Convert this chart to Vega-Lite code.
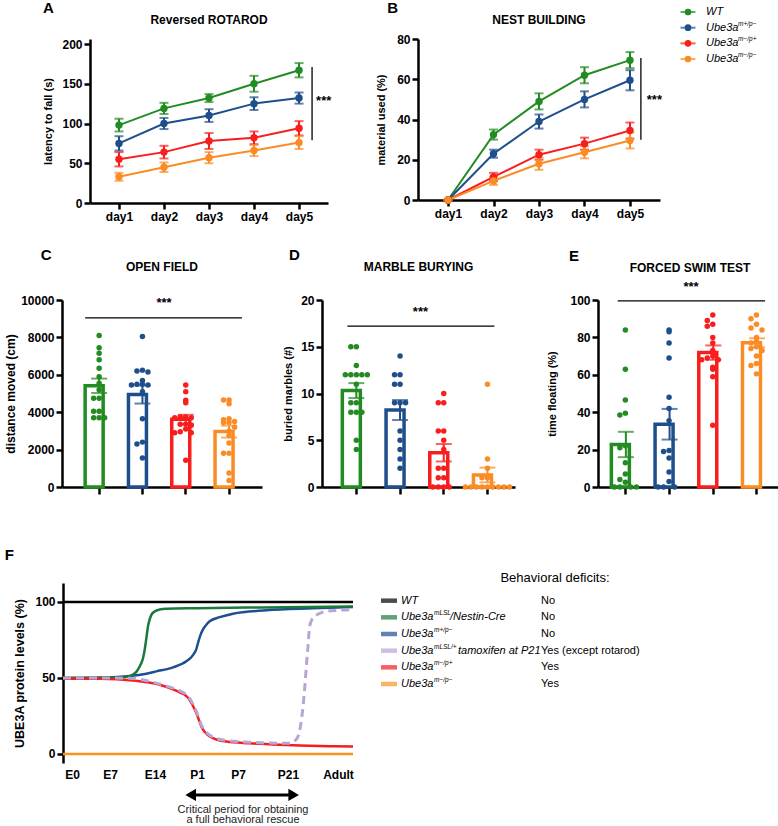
{
 "$schema": "https://vega.github.io/schema/vega-lite/v6.json",
 "padding": {"left": 1, "top": 1, "right": 0, "bottom": 0},
 "config": {
  "font": "Liberation Sans",
  "view": {"stroke": null},
  "axis": {"domainColor": "#000", "domainWidth": 2.5, "tickColor": "#000", "tickWidth": 2.5, "tickSize": 6, "labelColor": "#000", "labelFontWeight": "bold", "labelFontSize": 12, "labelFont": "Liberation Sans", "titleFont": "Liberation Sans", "titleColor": "#000", "titleFontWeight": "bold", "titleFontSize": 11, "grid": false, "labelPadding": 2, "titlePadding": 8, "labelOverlap": false},
  "title": {"font": "Liberation Sans", "fontWeight": "bold", "color": "#000", "fontSize": 12},
  "text": {"font": "Liberation Sans"}
 },
 "datasets": {
  "rotarod": [
   {"day": 1, "g": "WT", "m": 98, "s": 8}, {"day": 2, "g": "WT", "m": 119, "s": 7}, {"day": 3, "g": "WT", "m": 132, "s": 5}, {"day": 4, "g": "WT", "m": 150, "s": 10}, {"day": 5, "g": "WT", "m": 167, "s": 9},
   {"day": 1, "g": "m+/p−", "m": 75, "s": 9}, {"day": 2, "g": "m+/p−", "m": 100, "s": 7}, {"day": 3, "g": "m+/p−", "m": 110, "s": 8}, {"day": 4, "g": "m+/p−", "m": 125, "s": 8}, {"day": 5, "g": "m+/p−", "m": 132, "s": 7},
   {"day": 1, "g": "m−/p+", "m": 55, "s": 9}, {"day": 2, "g": "m−/p+", "m": 64, "s": 8}, {"day": 3, "g": "m−/p+", "m": 78, "s": 10}, {"day": 4, "g": "m−/p+", "m": 82, "s": 8}, {"day": 5, "g": "m−/p+", "m": 94, "s": 9},
   {"day": 1, "g": "m−/p−", "m": 33, "s": 5}, {"day": 2, "g": "m−/p−", "m": 45, "s": 6}, {"day": 3, "g": "m−/p−", "m": 57, "s": 7}, {"day": 4, "g": "m−/p−", "m": 66, "s": 7}, {"day": 5, "g": "m−/p−", "m": 76, "s": 8}
  ],
  "nest": [
   {"day": 1, "g": "WT", "m": 0, "s": 0}, {"day": 2, "g": "WT", "m": 32.5, "s": 2.5}, {"day": 3, "g": "WT", "m": 49, "s": 4}, {"day": 4, "g": "WT", "m": 62, "s": 4}, {"day": 5, "g": "WT", "m": 69.5, "s": 4},
   {"day": 1, "g": "m+/p−", "m": 0, "s": 0}, {"day": 2, "g": "m+/p−", "m": 23, "s": 2}, {"day": 3, "g": "m+/p−", "m": 39, "s": 3.5}, {"day": 4, "g": "m+/p−", "m": 50, "s": 4}, {"day": 5, "g": "m+/p−", "m": 59.5, "s": 5},
   {"day": 1, "g": "m−/p+", "m": 0, "s": 0}, {"day": 2, "g": "m−/p+", "m": 11.5, "s": 2}, {"day": 3, "g": "m−/p+", "m": 22.5, "s": 2.5}, {"day": 4, "g": "m−/p+", "m": 28, "s": 3}, {"day": 5, "g": "m−/p+", "m": 34.5, "s": 4},
   {"day": 1, "g": "m−/p−", "m": 0, "s": 0}, {"day": 2, "g": "m−/p−", "m": 9.5, "s": 2}, {"day": 3, "g": "m−/p−", "m": 18, "s": 3}, {"day": 4, "g": "m−/p−", "m": 23.7, "s": 3}, {"day": 5, "g": "m−/p−", "m": 29.6, "s": 4}
  ],
  "openfield": [
   {"g": "WT", "v": 8100}, {"g": "WT", "v": 7450}, {"g": "WT", "v": 7150}, {"g": "WT", "v": 6800}, {"g": "WT", "v": 6350}, {"g": "WT", "v": 5900}, {"g": "WT", "v": 5550}, {"g": "WT", "v": 5200}, {"g": "WT", "v": 4750}, {"g": "WT", "v": 4750}, {"g": "WT", "v": 4050}, {"g": "WT", "v": 4050}, {"g": "WT", "v": 3700}, {"g": "WT", "v": 3700}, {"g": "WT", "v": 3700},
   {"g": "m+/p−", "v": 8050}, {"g": "m+/p−", "v": 6250}, {"g": "m+/p−", "v": 6200}, {"g": "m+/p−", "v": 6150}, {"g": "m+/p−", "v": 5700}, {"g": "m+/p−", "v": 5500}, {"g": "m+/p−", "v": 5500}, {"g": "m+/p−", "v": 5450}, {"g": "m+/p−", "v": 5450}, {"g": "m+/p−", "v": 5100}, {"g": "m+/p−", "v": 3650}, {"g": "m+/p−", "v": 2400}, {"g": "m+/p−", "v": 2300}, {"g": "m+/p−", "v": 1550},
   {"g": "m−/p+", "v": 5450}, {"g": "m−/p+", "v": 5100}, {"g": "m−/p+", "v": 4640}, {"g": "m−/p+", "v": 4500}, {"g": "m−/p+", "v": 3750}, {"g": "m−/p+", "v": 3750}, {"g": "m−/p+", "v": 3700}, {"g": "m−/p+", "v": 3700}, {"g": "m−/p+", "v": 3350}, {"g": "m−/p+", "v": 3350}, {"g": "m−/p+", "v": 3300}, {"g": "m−/p+", "v": 3100}, {"g": "m−/p+", "v": 2950}, {"g": "m−/p+", "v": 2900}, {"g": "m−/p+", "v": 2900}, {"g": "m−/p+", "v": 1430},
   {"g": "m−/p−", "v": 4650}, {"g": "m−/p−", "v": 4650}, {"g": "m−/p−", "v": 4450}, {"g": "m−/p−", "v": 3650}, {"g": "m−/p−", "v": 3600}, {"g": "m−/p−", "v": 3500}, {"g": "m−/p−", "v": 3450}, {"g": "m−/p−", "v": 3450}, {"g": "m−/p−", "v": 3200}, {"g": "m−/p−", "v": 3000}, {"g": "m−/p−", "v": 2750}, {"g": "m−/p−", "v": 2350}, {"g": "m−/p−", "v": 1800}, {"g": "m−/p−", "v": 1800}, {"g": "m−/p−", "v": 750}, {"g": "m−/p−", "v": 350}
  ],
  "marble": [
   {"g": "WT", "v": 15}, {"g": "WT", "v": 15}, {"g": "WT", "v": 13}, {"g": "WT", "v": 12}, {"g": "WT", "v": 12}, {"g": "WT", "v": 12}, {"g": "WT", "v": 12}, {"g": "WT", "v": 12}, {"g": "WT", "v": 11}, {"g": "WT", "v": 9}, {"g": "WT", "v": 9}, {"g": "WT", "v": 8}, {"g": "WT", "v": 8}, {"g": "WT", "v": 8}, {"g": "WT", "v": 5}, {"g": "WT", "v": 4},
   {"g": "m+/p−", "v": 14}, {"g": "m+/p−", "v": 12}, {"g": "m+/p−", "v": 12}, {"g": "m+/p−", "v": 11}, {"g": "m+/p−", "v": 11}, {"g": "m+/p−", "v": 9}, {"g": "m+/p−", "v": 9}, {"g": "m+/p−", "v": 9}, {"g": "m+/p−", "v": 6}, {"g": "m+/p−", "v": 5}, {"g": "m+/p−", "v": 4}, {"g": "m+/p−", "v": 3}, {"g": "m+/p−", "v": 2},
   {"g": "m−/p+", "v": 10}, {"g": "m−/p+", "v": 9}, {"g": "m−/p+", "v": 9}, {"g": "m−/p+", "v": 6}, {"g": "m−/p+", "v": 6}, {"g": "m−/p+", "v": 5}, {"g": "m−/p+", "v": 4}, {"g": "m−/p+", "v": 2}, {"g": "m−/p+", "v": 2}, {"g": "m−/p+", "v": 1}, {"g": "m−/p+", "v": 1}, {"g": "m−/p+", "v": 0}, {"g": "m−/p+", "v": 0}, {"g": "m−/p+", "v": 0}, {"g": "m−/p+", "v": 0},
   {"g": "m−/p−", "v": 11}, {"g": "m−/p−", "v": 3}, {"g": "m−/p−", "v": 2}, {"g": "m−/p−", "v": 1}, {"g": "m−/p−", "v": 1}, {"g": "m−/p−", "v": 0}, {"g": "m−/p−", "v": 0}, {"g": "m−/p−", "v": 0}, {"g": "m−/p−", "v": 0}, {"g": "m−/p−", "v": 0}, {"g": "m−/p−", "v": 0}, {"g": "m−/p−", "v": 0}, {"g": "m−/p−", "v": 0}, {"g": "m−/p−", "v": 0}
  ],
  "swim": [
   {"g": "WT", "v": 84}, {"g": "WT", "v": 63}, {"g": "WT", "v": 46.5}, {"g": "WT", "v": 39.5}, {"g": "WT", "v": 38.5}, {"g": "WT", "v": 22}, {"g": "WT", "v": 21}, {"g": "WT", "v": 13}, {"g": "WT", "v": 7}, {"g": "WT", "v": 4}, {"g": "WT", "v": 2.5}, {"g": "WT", "v": 0}, {"g": "WT", "v": 0}, {"g": "WT", "v": 0}, {"g": "WT", "v": 0},
   {"g": "m+/p−", "v": 84}, {"g": "m+/p−", "v": 83}, {"g": "m+/p−", "v": 77}, {"g": "m+/p−", "v": 69}, {"g": "m+/p−", "v": 48}, {"g": "m+/p−", "v": 42}, {"g": "m+/p−", "v": 35.5}, {"g": "m+/p−", "v": 19.5}, {"g": "m+/p−", "v": 19}, {"g": "m+/p−", "v": 15.5}, {"g": "m+/p−", "v": 8}, {"g": "m+/p−", "v": 3}, {"g": "m+/p−", "v": 0}, {"g": "m+/p−", "v": 0}, {"g": "m+/p−", "v": 0},
   {"g": "m−/p+", "v": 92}, {"g": "m−/p+", "v": 89}, {"g": "m−/p+", "v": 87}, {"g": "m−/p+", "v": 86}, {"g": "m−/p+", "v": 80}, {"g": "m−/p+", "v": 77}, {"g": "m−/p+", "v": 73}, {"g": "m−/p+", "v": 70}, {"g": "m−/p+", "v": 69}, {"g": "m−/p+", "v": 68}, {"g": "m−/p+", "v": 68}, {"g": "m−/p+", "v": 64}, {"g": "m−/p+", "v": 63}, {"g": "m−/p+", "v": 59}, {"g": "m−/p+", "v": 33},
   {"g": "m−/p−", "v": 92}, {"g": "m−/p−", "v": 90}, {"g": "m−/p−", "v": 87}, {"g": "m−/p−", "v": 85}, {"g": "m−/p−", "v": 84}, {"g": "m−/p−", "v": 80}, {"g": "m−/p−", "v": 78}, {"g": "m−/p−", "v": 77}, {"g": "m−/p−", "v": 75}, {"g": "m−/p−", "v": 74}, {"g": "m−/p−", "v": 73}, {"g": "m−/p−", "v": 70}, {"g": "m−/p−", "v": 66}, {"g": "m−/p−", "v": 65}, {"g": "m−/p−", "v": 60.5}
  ],
  "protein": [
   {"s": "wt", "t": 0, "v": 100}, {"s": "wt", "t": 87, "v": 100},
   {"s": "mmm", "t": 0, "v": 0}, {"s": "mmm", "t": 87, "v": 0},
   {"s": "mpm", "t": 0, "v": 50}, {"s": "mpm", "t": 15, "v": 50.4}, {"s": "mpm", "t": 20, "v": 51.2}, {"s": "mpm", "t": 25, "v": 52.8}, {"s": "mpm", "t": 28, "v": 54.3}, {"s": "mpm", "t": 33, "v": 57}, {"s": "mpm", "t": 37, "v": 61}, {"s": "mpm", "t": 39, "v": 65}, {"s": "mpm", "t": 40, "v": 69}, {"s": "mpm", "t": 40.5, "v": 73}, {"s": "mpm", "t": 41.2, "v": 78}, {"s": "mpm", "t": 42, "v": 82}, {"s": "mpm", "t": 43, "v": 85}, {"s": "mpm", "t": 44, "v": 87.3}, {"s": "mpm", "t": 47, "v": 90}, {"s": "mpm", "t": 51, "v": 92.3}, {"s": "mpm", "t": 61, "v": 94.5}, {"s": "mpm", "t": 75, "v": 95.8}, {"s": "mpm", "t": 87, "v": 96.7},
   {"s": "nes", "t": 0, "v": 50}, {"s": "nes", "t": 10, "v": 50}, {"s": "nes", "t": 17, "v": 50.3}, {"s": "nes", "t": 20, "v": 51.2}, {"s": "nes", "t": 22, "v": 54}, {"s": "nes", "t": 23, "v": 57.5}, {"s": "nes", "t": 24, "v": 63}, {"s": "nes", "t": 24.5, "v": 68.5}, {"s": "nes", "t": 25, "v": 76}, {"s": "nes", "t": 25.5, "v": 84}, {"s": "nes", "t": 26, "v": 88.5}, {"s": "nes", "t": 26.5, "v": 91.5}, {"s": "nes", "t": 27.5, "v": 93.8}, {"s": "nes", "t": 29, "v": 95}, {"s": "nes", "t": 31, "v": 95.5}, {"s": "nes", "t": 40, "v": 95.9}, {"s": "nes", "t": 60, "v": 96.4}, {"s": "nes", "t": 87, "v": 97},
   {"s": "mmp", "t": 0, "v": 49.5}, {"s": "mmp", "t": 11, "v": 49.4}, {"s": "mmp", "t": 21, "v": 48.3}, {"s": "mmp", "t": 29, "v": 45.5}, {"s": "mmp", "t": 33, "v": 42.5}, {"s": "mmp", "t": 35, "v": 40.5}, {"s": "mmp", "t": 37, "v": 38}, {"s": "mmp", "t": 38, "v": 35.5}, {"s": "mmp", "t": 39, "v": 31.5}, {"s": "mmp", "t": 40, "v": 26.8}, {"s": "mmp", "t": 41, "v": 21}, {"s": "mmp", "t": 41.5, "v": 18}, {"s": "mmp", "t": 42.5, "v": 14.5}, {"s": "mmp", "t": 44, "v": 11.4}, {"s": "mmp", "t": 46, "v": 9.5}, {"s": "mmp", "t": 49, "v": 8.1}, {"s": "mmp", "t": 56, "v": 7}, {"s": "mmp", "t": 65, "v": 6}, {"s": "mmp", "t": 71, "v": 5.5}, {"s": "mmp", "t": 80, "v": 5}, {"s": "mmp", "t": 87, "v": 4.8},
   {"s": "tam", "t": 0, "v": 50}, {"s": "tam", "t": 10, "v": 50}, {"s": "tam", "t": 20, "v": 49.8}, {"s": "tam", "t": 29, "v": 46}, {"s": "tam", "t": 33, "v": 43.3}, {"s": "tam", "t": 35, "v": 41.5}, {"s": "tam", "t": 37, "v": 39}, {"s": "tam", "t": 38, "v": 36.5}, {"s": "tam", "t": 39, "v": 32.5}, {"s": "tam", "t": 40, "v": 28}, {"s": "tam", "t": 41, "v": 22}, {"s": "tam", "t": 41.5, "v": 19}, {"s": "tam", "t": 42.5, "v": 15.5}, {"s": "tam", "t": 44, "v": 12.3}, {"s": "tam", "t": 46, "v": 10.2}, {"s": "tam", "t": 49, "v": 8.8}, {"s": "tam", "t": 56, "v": 7.7}, {"s": "tam", "t": 65, "v": 7}, {"s": "tam", "t": 68, "v": 7}, {"s": "tam", "t": 69.5, "v": 8.5}, {"s": "tam", "t": 70.5, "v": 11.4}, {"s": "tam", "t": 71.3, "v": 19}, {"s": "tam", "t": 72, "v": 31}, {"s": "tam", "t": 72.5, "v": 43}, {"s": "tam", "t": 73, "v": 57.6}, {"s": "tam", "t": 73.5, "v": 71}, {"s": "tam", "t": 74, "v": 84}, {"s": "tam", "t": 74.7, "v": 88.5}, {"s": "tam", "t": 75.5, "v": 90.5}, {"s": "tam", "t": 77, "v": 92.5}, {"s": "tam", "t": 79, "v": 93.8}, {"s": "tam", "t": 83, "v": 94.6}, {"s": "tam", "t": 87, "v": 95}
  ]
 },
 "align": "none",
 "spacing": 51,
 "vconcat": [
  {"align": "none", "spacing": 25, "vconcat": [
   {"align": "none", "spacing": 15, "hconcat": [
    {"width": 24, "height": 1, "view": {"stroke": "transparent"}, "data": {"values": []}, "mark": {"type": "point", "opacity": 0}},
    {"align": "none", "spacing": 17, "hconcat": [
     {"align": "none", "spacing": 43, "hconcat": [
      {"title": {"text": "A", "anchor": "start", "frame": "bounds", "fontSize": 15, "dx": 0, "offset": -2},
       "vconcat": [{
        "title": {"text": "Reversed ROTAROD", "offset": 11},
        "width": 238, "height": 164,
        "layer": [
         {"data": {"name": "rotarod"},
          "encoding": {
           "x": {"field": "day", "type": "quantitative", "scale": {"domain": [0.356, 5.644], "nice": false, "zero": false}, "axis": {"values": [1, 2, 3, 4, 5], "labelExpr": "'day' + datum.value", "title": null, "tickCount": 20}},
           "y": {"field": "m", "type": "quantitative", "scale": {"domain": [0, 206.3], "nice": false}, "axis": {"values": [0, 50, 100, 150, 200], "title": "latency to fall (s)", "tickCount": 20, "titlePadding": 8}},
           "color": {"field": "g", "type": "nominal", "scale": {"domain": ["WT", "m+/p−", "m−/p+", "m−/p−", "wt", "nes", "mpm", "tam", "mmp", "mmm"], "range": ["#228b22", "#1f4e8c", "#f81e1e", "#fb8c25", "#000000", "#1a7a3a", "#1d4f91", "#b9a4d6", "#f51d1d", "#f7931e"]}, "legend": null}
          },
          "layer": [
           {"mark": {"type": "line", "strokeWidth": 2}},
           {"mark": {"type": "errorbar", "ticks": true, "size": 9, "thickness": 2}, "encoding": {"yError": {"field": "s"}}},
           {"mark": {"type": "point", "filled": true, "size": 55, "opacity": 1}}
          ]},
         {"data": {"values": [{"day": 5.29, "m": 79, "m2": 171}]}, "mark": {"type": "rule", "color": "#000", "strokeWidth": 1.3}, "encoding": {"x": {"field": "day", "type": "quantitative"}, "y": {"field": "m", "type": "quantitative"}, "y2": {"field": "m2"}}},
         {"data": {"values": [{"day": 5.38, "m": 128, "t": "***"}]}, "mark": {"type": "text", "align": "left", "baseline": "middle", "fontSize": 13, "fontWeight": "bold", "color": "#000"}, "encoding": {"x": {"field": "day", "type": "quantitative"}, "y": {"field": "m", "type": "quantitative"}, "text": {"field": "t"}}}
        ]
       }]
      },
      {"title": {"text": "B", "anchor": "start", "frame": "bounds", "fontSize": 15, "dx": 12, "offset": -2},
       "vconcat": [{
        "title": {"text": "NEST BUILDING", "offset": 6},
        "width": 242, "height": 161,
        "layer": [
         {"data": {"name": "nest"},
          "encoding": {
           "x": {"field": "day", "type": "quantitative", "scale": {"domain": [0.34, 5.66], "nice": false, "zero": false}, "axis": {"values": [1, 2, 3, 4, 5], "labelExpr": "'day' + datum.value", "title": null, "tickCount": 20}},
           "y": {"field": "m", "type": "quantitative", "scale": {"domain": [0, 80], "nice": false}, "axis": {"values": [0, 20, 40, 60, 80], "title": "material used (%)", "tickCount": 20, "titlePadding": 10.5}},
           "color": {"field": "g", "type": "nominal", "scale": {"domain": ["WT", "m+/p−", "m−/p+", "m−/p−", "wt", "nes", "mpm", "tam", "mmp", "mmm"], "range": ["#228b22", "#1f4e8c", "#f81e1e", "#fb8c25", "#000000", "#1a7a3a", "#1d4f91", "#b9a4d6", "#f51d1d", "#f7931e"]}, "legend": null}
          },
          "layer": [
           {"mark": {"type": "line", "strokeWidth": 2}},
           {"mark": {"type": "errorbar", "ticks": true, "size": 9, "thickness": 2}, "encoding": {"yError": {"field": "s"}}},
           {"mark": {"type": "point", "filled": true, "size": 55, "opacity": 1}}
          ]},
         {"data": {"values": [{"day": 5.24, "m": 30, "m2": 70.6}]}, "mark": {"type": "rule", "color": "#000", "strokeWidth": 1.3}, "encoding": {"x": {"field": "day", "type": "quantitative"}, "y": {"field": "m", "type": "quantitative"}, "y2": {"field": "m2"}}},
         {"data": {"values": [{"day": 5.37, "m": 49.5, "t": "***"}]}, "mark": {"type": "text", "align": "left", "baseline": "middle", "fontSize": 13, "fontWeight": "bold", "color": "#000"}, "encoding": {"x": {"field": "day", "type": "quantitative"}, "y": {"field": "m", "type": "quantitative"}, "text": {"field": "t"}}}
        ]
       }]
      }
     ]},
     {"width": 16, "height": 20, "view": {"stroke": "transparent"},
      "data": {"values": [{"g": "WT", "b": "WT", "p": ""}, {"g": "m+/p−", "b": "Ube3a", "p": "m+/p−"}, {"g": "m−/p+", "b": "Ube3a", "p": "m−/p+"}, {"g": "m−/p−", "b": "Ube3a", "p": "m−/p−"}]},
      "encoding": {"y": {"field": "g", "type": "nominal", "scale": {"type": "point", "domain": ["WT", "m+/p−", "m−/p+", "m−/p−"], "range": [-27, 20], "padding": 0}, "axis": null}},
      "layer": [
       {"mark": {"type": "tick", "orient": "horizontal", "size": 15, "thickness": 2}, "encoding": {"color": {"field": "g", "type": "nominal", "scale": {"domain": ["WT", "m+/p−", "m−/p+", "m−/p−", "wt", "nes", "mpm", "tam", "mmp", "mmm"], "range": ["#228b22", "#1f4e8c", "#f81e1e", "#fb8c25", "#000000", "#1a7a3a", "#1d4f91", "#b9a4d6", "#f51d1d", "#f7931e"]}, "legend": null}}},
       {"mark": {"type": "point", "filled": true, "size": 45, "opacity": 1}, "encoding": {"color": {"field": "g", "type": "nominal", "scale": {"domain": ["WT", "m+/p−", "m−/p+", "m−/p−", "wt", "nes", "mpm", "tam", "mmp", "mmm"], "range": ["#228b22", "#1f4e8c", "#f81e1e", "#fb8c25", "#000000", "#1a7a3a", "#1d4f91", "#b9a4d6", "#f51d1d", "#f7931e"]}, "legend": null}}},
       {"mark": {"type": "text", "align": "left", "baseline": "middle", "dx": 18, "fontSize": 11, "fontStyle": "italic", "color": "#000"}, "encoding": {"text": {"field": "b"}}},
       {"mark": {"type": "text", "align": "left", "baseline": "middle", "dx": 50, "dy": -4, "fontSize": 6.5, "fontStyle": "italic", "color": "#000"}, "encoding": {"text": {"field": "p"}}}
      ]}
    ]}
   ]},
   {"align": "none", "spacing": 0, "hconcat": [
    {"width": 1, "height": 1, "view": {"stroke": "transparent"}, "data": {"values": []}, "mark": {"type": "point", "opacity": 0}},
    {"align": "none", "spacing": 20, "hconcat": [
     {"title": {"text": "C", "anchor": "start", "frame": "bounds", "fontSize": 15, "dx": 36, "offset": -2},
      "vconcat": [{
       "title": {"text": "OPEN FIELD", "offset": 20.5},
       "width": 200, "height": 187,
       "layer": [
        {"data": {"name": "openfield"},
         "encoding": {"x": {"field": "g", "type": "nominal", "scale": {"domain": ["WT", "m+/p−", "m−/p+", "m−/p−"], "paddingInner": 0.353, "paddingOuter": 0.486, "align": 0.55}, "axis": {"labels": false, "title": null, "tickSize": 7}}},
         "layer": [
          {"mark": {"type": "bar", "fill": "white", "strokeWidth": 3.5}, "encoding": {"y": {"aggregate": "mean", "field": "v", "type": "quantitative", "title": "distance moved (cm)", "scale": {"domain": [0, 10000], "nice": false}, "axis": {"values": [0, 2000, 4000, 6000, 8000, 10000], "format": "d", "titleFontSize": 12, "titlePadding": 3, "tickCount": 20}}, "stroke": {"field": "g", "type": "nominal", "scale": {"domain": ["WT", "m+/p−", "m−/p+", "m−/p−"], "range": ["#228b22", "#1f4e8c", "#f81e1e", "#fb8c25"]}, "legend": null}}},
          {"transform": [{"bin": {"step": 350}, "field": "v", "as": "vb"}, {"window": [{"op": "row_number", "as": "slot"}], "groupby": ["g", "vb"]}],
           "mark": {"type": "circle", "size": 30, "opacity": 1},
           "encoding": {"y": {"field": "v", "type": "quantitative", "title": "distance moved (cm)"}, "xOffset": {"field": "slot", "type": "ordinal", "scale": {"type": "point", "domain": [8, 6, 4, 2, 1, 3, 5, 7, 9], "range": [-8, 36], "padding": 0}}, "color": {"field": "g", "type": "nominal", "scale": {"domain": ["WT", "m+/p−", "m−/p+", "m−/p−", "wt", "nes", "mpm", "tam", "mmp", "mmm"], "range": ["#228b22", "#1f4e8c", "#f81e1e", "#fb8c25", "#000000", "#1a7a3a", "#1d4f91", "#b9a4d6", "#f51d1d", "#f7931e"]}, "legend": null}}},
          {"mark": {"type": "errorbar", "extent": "stderr", "ticks": true, "size": 16, "thickness": 2}, "encoding": {"y": {"field": "v", "type": "quantitative", "title": "distance moved (cm)"}, "color": {"field": "g", "type": "nominal", "scale": {"domain": ["WT", "m+/p−", "m−/p+", "m−/p−", "wt", "nes", "mpm", "tam", "mmp", "mmm"], "range": ["#228b22", "#1f4e8c", "#f81e1e", "#fb8c25", "#000000", "#1a7a3a", "#1d4f91", "#b9a4d6", "#f51d1d", "#f7931e"]}, "legend": null}}}
         ]},
        {"data": {"values": [{"g": "WT", "g2": "m−/p−", "v": 9040}]}, "mark": {"type": "rule", "color": "#000", "strokeWidth": 1.2}, "encoding": {"x": {"field": "g", "type": "nominal", "bandPosition": 0}, "x2": {"field": "g2", "bandPosition": 0.96}, "y": {"field": "v", "type": "quantitative", "title": "distance moved (cm)"}}},
        {"data": {"values": [{"g": "m+/p−", "v": 9840, "t": "***"}]}, "mark": {"type": "text", "baseline": "middle", "fontSize": 13, "fontWeight": "bold", "color": "#000"}, "encoding": {"x": {"field": "g", "type": "nominal", "bandPosition": 1.27}, "y": {"field": "v", "type": "quantitative", "title": "distance moved (cm)"}, "text": {"field": "t"}}}
       ]
      }]
     },
     {"align": "none", "spacing": 31, "hconcat": [
      {"title": {"text": "D", "anchor": "start", "frame": "bounds", "fontSize": 15, "dx": 6, "offset": -2},
       "vconcat": [{
        "title": {"text": "MARBLE BURYING", "offset": 20.5},
        "width": 193, "height": 187,
        "layer": [
         {"data": {"name": "marble"},
          "encoding": {"x": {"field": "g", "type": "nominal", "scale": {"domain": ["WT", "m+/p−", "m−/p+", "m−/p−"], "paddingInner": 0.36, "paddingOuter": 0.388, "align": 0.6}, "axis": {"labels": false, "title": null, "tickSize": 7}}},
          "layer": [
           {"mark": {"type": "bar", "fill": "white", "strokeWidth": 3.5}, "encoding": {"y": {"aggregate": "mean", "field": "v", "type": "quantitative", "title": "buried marbles (#)", "scale": {"domain": [0, 20], "nice": false}, "axis": {"values": [0, 5, 10, 15, 20], "titlePadding": 6.7, "tickCount": 20}}, "stroke": {"field": "g", "type": "nominal", "scale": {"domain": ["WT", "m+/p−", "m−/p+", "m−/p−"], "range": ["#228b22", "#1f4e8c", "#f81e1e", "#fb8c25"]}, "legend": null}}},
           {"transform": [{"bin": {"step": 1}, "field": "v", "as": "vb"}, {"window": [{"op": "row_number", "as": "slot"}], "groupby": ["g", "vb"]}],
            "mark": {"type": "circle", "size": 30, "opacity": 1},
            "encoding": {"y": {"field": "v", "type": "quantitative", "title": "buried marbles (#)"}, "xOffset": {"field": "slot", "type": "ordinal", "scale": {"type": "point", "domain": [8, 6, 4, 2, 1, 3, 5, 7, 9], "range": [-5, 33], "padding": 0}}, "color": {"field": "g", "type": "nominal", "scale": {"domain": ["WT", "m+/p−", "m−/p+", "m−/p−", "wt", "nes", "mpm", "tam", "mmp", "mmm"], "range": ["#228b22", "#1f4e8c", "#f81e1e", "#fb8c25", "#000000", "#1a7a3a", "#1d4f91", "#b9a4d6", "#f51d1d", "#f7931e"]}, "legend": null}}},
           {"mark": {"type": "errorbar", "extent": "stderr", "ticks": true, "size": 16, "thickness": 2}, "encoding": {"y": {"field": "v", "type": "quantitative", "title": "buried marbles (#)"}, "color": {"field": "g", "type": "nominal", "scale": {"domain": ["WT", "m+/p−", "m−/p+", "m−/p−", "wt", "nes", "mpm", "tam", "mmp", "mmm"], "range": ["#228b22", "#1f4e8c", "#f81e1e", "#fb8c25", "#000000", "#1a7a3a", "#1d4f91", "#b9a4d6", "#f51d1d", "#f7931e"]}, "legend": null}}}
          ]},
         {"data": {"values": [{"g": "WT", "g2": "m−/p−", "v": 17.2}]}, "mark": {"type": "rule", "color": "#000", "strokeWidth": 1.2}, "encoding": {"x": {"field": "g", "type": "nominal", "bandPosition": 0.18}, "x2": {"field": "g2", "bandPosition": 0.75}, "y": {"field": "v", "type": "quantitative", "title": "buried marbles (#)"}}},
         {"data": {"values": [{"g": "m+/p−", "v": 18.7, "t": "***"}]}, "mark": {"type": "text", "baseline": "middle", "fontSize": 13, "fontWeight": "bold", "color": "#000"}, "encoding": {"x": {"field": "g", "type": "nominal", "bandPosition": 1.23}, "y": {"field": "v", "type": "quantitative", "title": "buried marbles (#)"}, "text": {"field": "t"}}}
        ]
       }]
      },
      {"title": {"text": "E", "anchor": "start", "frame": "bounds", "fontSize": 15, "dx": 22, "offset": -2},
       "vconcat": [{
        "title": {"text": "FORCED SWIM TEST", "offset": 5.5},
        "width": 184, "height": 187,
        "layer": [
         {"data": {"name": "swim"},
          "encoding": {"x": {"field": "g", "type": "nominal", "scale": {"domain": ["WT", "m+/p−", "m−/p+", "m−/p−"], "paddingInner": 0.336, "paddingOuter": 0.273, "align": 0.56}, "axis": {"labels": false, "title": null, "tickSize": 7}}},
          "layer": [
           {"mark": {"type": "bar", "fill": "white", "strokeWidth": 3.5}, "encoding": {"y": {"aggregate": "mean", "field": "v", "type": "quantitative", "title": "time floating (%)", "scale": {"domain": [0, 100], "nice": false}, "axis": {"values": [0, 20, 40, 60, 80, 100], "titlePadding": 12, "tickCount": 20}}, "stroke": {"field": "g", "type": "nominal", "scale": {"domain": ["WT", "m+/p−", "m−/p+", "m−/p−"], "range": ["#228b22", "#1f4e8c", "#f81e1e", "#fb8c25"]}, "legend": null}}},
           {"transform": [{"bin": {"step": 4}, "field": "v", "as": "vb"}, {"window": [{"op": "row_number", "as": "slot"}], "groupby": ["g", "vb"]}],
            "mark": {"type": "circle", "size": 30, "opacity": 1},
            "encoding": {"y": {"field": "v", "type": "quantitative", "title": "time floating (%)"}, "xOffset": {"field": "slot", "type": "ordinal", "scale": {"type": "point", "domain": [8, 6, 4, 2, 1, 3, 5, 7, 9], "range": [-7.5, 36.5], "padding": 0}}, "color": {"field": "g", "type": "nominal", "scale": {"domain": ["WT", "m+/p−", "m−/p+", "m−/p−", "wt", "nes", "mpm", "tam", "mmp", "mmm"], "range": ["#228b22", "#1f4e8c", "#f81e1e", "#fb8c25", "#000000", "#1a7a3a", "#1d4f91", "#b9a4d6", "#f51d1d", "#f7931e"]}, "legend": null}}},
           {"mark": {"type": "errorbar", "extent": "stderr", "ticks": true, "size": 16, "thickness": 2}, "encoding": {"y": {"field": "v", "type": "quantitative", "title": "time floating (%)"}, "color": {"field": "g", "type": "nominal", "scale": {"domain": ["WT", "m+/p−", "m−/p+", "m−/p−", "wt", "nes", "mpm", "tam", "mmp", "mmm"], "range": ["#228b22", "#1f4e8c", "#f81e1e", "#fb8c25", "#000000", "#1a7a3a", "#1d4f91", "#b9a4d6", "#f51d1d", "#f7931e"]}, "legend": null}}}
          ]},
         {"data": {"values": [{"g": "WT", "g2": "m−/p−", "v": 99.5}]}, "mark": {"type": "rule", "color": "#000", "strokeWidth": 1.2}, "encoding": {"x": {"field": "g", "type": "nominal", "bandPosition": 0.22}, "x2": {"field": "g2", "bandPosition": 0.78}, "y": {"field": "v", "type": "quantitative", "title": "time floating (%)"}}},
         {"data": {"values": [{"g": "m+/p−", "v": 107, "t": "***"}]}, "mark": {"type": "text", "baseline": "middle", "fontSize": 13, "fontWeight": "bold", "color": "#000"}, "encoding": {"x": {"field": "g", "type": "nominal", "bandPosition": 1.24}, "y": {"field": "v", "type": "quantitative", "title": "time floating (%)"}, "text": {"field": "t"}}}
        ]
       }]
      }
     ]}
    ]}
   ]}
  ]},
  {"align": "none", "spacing": 0, "hconcat": [
   {"width": 1, "height": 1, "view": {"stroke": "transparent"}, "data": {"values": []}, "mark": {"type": "point", "opacity": 0}},
   {"align": "none", "spacing": 21, "hconcat": [
    {"width": 290, "height": 180,
     "layer": [
      {"data": {"name": "protein"}, "transform": [{"filter": "datum.s != 'tam'"}],
       "mark": {"type": "line", "strokeWidth": 2.5, "interpolate": "monotone"},
       "encoding": {
        "x": {"field": "t", "type": "quantitative", "scale": {"domain": [0, 87], "nice": false, "zero": false}, "axis": {"values": [2.7, 14.1, 27.6, 40.2, 52.5, 67.5, 82.5], "labelExpr": "['E0','E7','E14','P1','P7','P21','Adult'][indexof([2.7,14.1,27.6,40.2,52.5,67.5,82.5], datum.value)]", "domain": false, "ticks": false, "title": null, "labelPadding": 6, "tickCount": 20}},
        "y": {"field": "v", "type": "quantitative", "scale": {"domain": [-6, 112.5], "nice": false, "zero": false}, "axis": {"values": [0, 50, 100], "title": "UBE3A protein levels (%)", "titleFontSize": 12.5, "titlePadding": 8, "tickCount": 20}},
        "color": {"field": "s", "type": "nominal", "scale": {"domain": ["WT", "m+/p−", "m−/p+", "m−/p−", "wt", "nes", "mpm", "tam", "mmp", "mmm"], "range": ["#228b22", "#1f4e8c", "#f81e1e", "#fb8c25", "#000000", "#1a7a3a", "#1d4f91", "#b9a4d6", "#f51d1d", "#f7931e"]}, "legend": null}
       }},
      {"data": {"name": "protein"}, "transform": [{"filter": "datum.s == 'tam'"}],
       "mark": {"type": "line", "strokeWidth": 3, "strokeDash": [8, 5], "interpolate": "monotone", "color": "#b9a4d6"},
       "encoding": {"x": {"field": "t", "type": "quantitative"}, "y": {"field": "v", "type": "quantitative"}}},
      {"data": {"values": [{"t": 38.8, "t2": 68.7, "v": -27}]}, "mark": {"type": "rule", "strokeWidth": 3, "color": "#000"}, "encoding": {"x": {"field": "t", "type": "quantitative"}, "x2": {"field": "t2"}, "y": {"field": "v", "type": "quantitative"}}},
      {"data": {"values": [{"t": 38.3, "v": -27, "d": "l"}, {"t": 69.2, "v": -27, "d": "r"}]}, "mark": {"type": "point", "filled": true, "opacity": 1, "color": "#000", "size": 150}, "encoding": {"x": {"field": "t", "type": "quantitative"}, "y": {"field": "v", "type": "quantitative"}, "shape": {"field": "d", "type": "nominal", "scale": {"domain": ["l", "r"], "range": ["triangle-left", "triangle-right"]}, "legend": null}}},
      {"data": {"values": [{"t": 54, "v": -36.8, "l": "Critical period for obtaining"}, {"t": 54, "v": -43.8, "l": "a full behavioral rescue"}]}, "mark": {"type": "text", "fontSize": 11, "color": "#222", "baseline": "middle"}, "encoding": {"x": {"field": "t", "type": "quantitative"}, "y": {"field": "v", "type": "quantitative"}, "text": {"field": "l"}}},
      {"data": {"values": [{"t": -17.5, "v": 131, "l": "F"}]}, "mark": {"type": "text", "fontSize": 15, "fontWeight": "bold", "color": "#000", "align": "left", "baseline": "middle"}, "encoding": {"x": {"field": "t", "type": "quantitative"}, "y": {"field": "v", "type": "quantitative"}, "text": {"field": "l"}}}
     ]
    },
    {"width": 16, "height": 100, "view": {"stroke": "transparent"},
     "data": {"values": [
      {"k": "title", "b": "Behavioral deficits:", "p": "", "tl": "", "d": ""},
      {"k": "wt", "b": "WT", "p": "", "tl": "", "d": "No"},
      {"k": "nes", "b": "Ube3a", "p": "mLSL", "tl": "/Nestin-Cre", "d": "No"},
      {"k": "mpm", "b": "Ube3a", "p": "m+/p−", "tl": "", "d": "No"},
      {"k": "tam", "b": "Ube3a", "p": "mLSL/+", "tl": "tamoxifen at P21", "d": "Yes (except rotarod)"},
      {"k": "mmp", "b": "Ube3a", "p": "m−/p+", "tl": "", "d": "Yes"},
      {"k": "mmm", "b": "Ube3a", "p": "m−/p−", "tl": "", "d": "Yes"}
     ]},
     "encoding": {"y": {"field": "k", "type": "nominal", "scale": {"type": "point", "domain": ["title", "wt", "nes", "mpm", "tam", "mmp", "mmm"], "range": [1, 101], "padding": 0}, "axis": null}},
     "layer": [
      {"transform": [{"filter": "datum.k != 'title'"}], "mark": {"type": "tick", "orient": "horizontal", "size": 16, "thickness": 4.5}, "encoding": {"color": {"field": "k", "type": "nominal", "scale": {"domain": ["WT", "m+/p−", "m−/p+", "m−/p−", "wt", "nes", "mpm", "tam", "mmp", "mmm"], "range": ["#228b22", "#1f4e8c", "#f81e1e", "#fb8c25", "#000000", "#1a7a3a", "#1d4f91", "#b9a4d6", "#f51d1d", "#f7931e"]}, "legend": null}}},
      {"transform": [{"filter": "datum.k == 'title'"}], "mark": {"type": "text", "align": "center", "baseline": "middle", "dx": 166, "dy": -6, "fontSize": 13, "color": "#000"}, "encoding": {"text": {"field": "b"}}},
      {"transform": [{"filter": "datum.k != 'title'"}], "mark": {"type": "text", "align": "left", "baseline": "middle", "dx": 12, "fontSize": 11, "fontStyle": "italic", "color": "#000"}, "encoding": {"text": {"field": "b"}}},
      {"mark": {"type": "text", "align": "left", "baseline": "middle", "dx": 45, "dy": -4, "fontSize": 6.5, "fontStyle": "italic", "color": "#000"}, "encoding": {"text": {"field": "p"}}},
      {"transform": [{"filter": "datum.k == 'nes'"}], "mark": {"type": "text", "align": "left", "baseline": "middle", "dx": 61, "fontSize": 11, "fontStyle": "italic", "color": "#000"}, "encoding": {"text": {"field": "tl"}}},
      {"transform": [{"filter": "datum.k == 'tam'"}], "mark": {"type": "text", "align": "left", "baseline": "middle", "dx": 69, "fontSize": 11, "fontStyle": "italic", "color": "#000"}, "encoding": {"text": {"field": "tl"}}},
      {"mark": {"type": "text", "align": "left", "baseline": "middle", "dx": 152, "fontSize": 11, "color": "#000"}, "encoding": {"text": {"field": "d"}}}
     ]}
   ]}
  ]}
 ]
}
